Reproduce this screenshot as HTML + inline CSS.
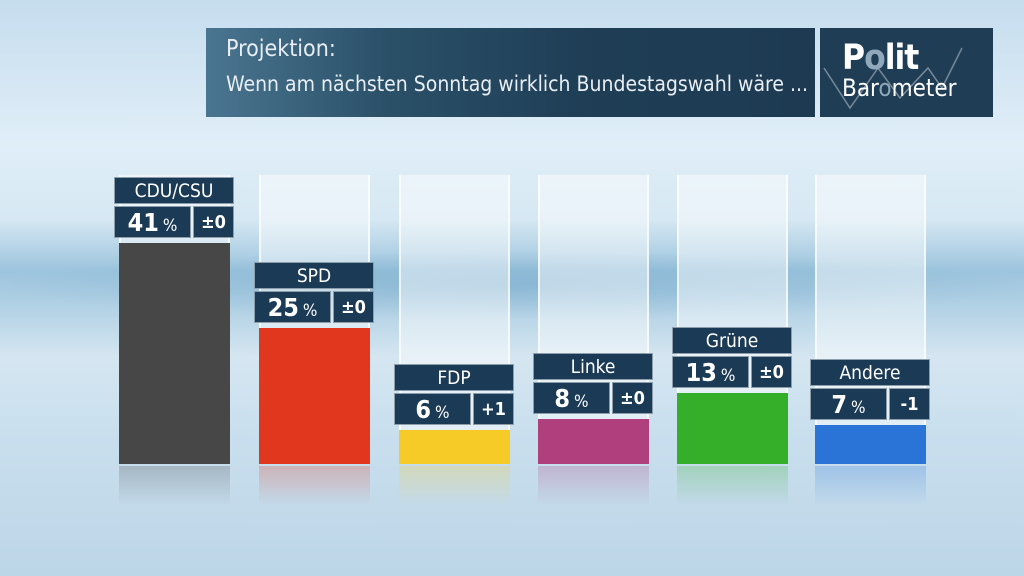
<!DOCTYPE html>
<html><head><meta charset="utf-8"><style>
*{margin:0;padding:0;box-sizing:border-box}
body{width:1024px;height:576px;overflow:hidden;position:relative;font-family:"DejaVu Sans Condensed","Liberation Sans Narrow","Liberation Sans",sans-serif;
background:linear-gradient(180deg,#c6ddee 0%,#e0eef8 25%,#d6e8f3 38%,#9cc4dd 47%,#b8d5e7 55%,#d5e6f1 62%,#c9dfee 75%,#bcd5e7 100%)}
.band{position:absolute;left:0;top:250px;width:1024px;height:70px;background:radial-gradient(ellipse at 50% 50%,rgba(90,150,190,.35),rgba(90,150,190,0) 70%)}
.banner{position:absolute;left:206px;top:28px;width:609px;height:89px;background:linear-gradient(90deg,#4a7590 0%,#2a5068 30%,#1f3f57 60%,#1d3a52 100%);color:#e8eef3}
.banner .t1{position:absolute;left:20px;top:8px;font-size:23px}
.banner .t2{position:absolute;left:20px;top:44px;font-size:21px}
.logo{position:absolute;left:820px;top:28px;width:173px;height:89px;background:#1f3d55;color:#fff}
.ghost{position:absolute;top:175px;background:rgba(255,255,255,.45);border-left:2px solid rgba(255,255,255,.7);border-right:2px solid rgba(255,255,255,.7)}
.bar{position:absolute;bottom:112px}
.refl{position:absolute;top:466px;opacity:.25;height:40px}
.box{position:absolute;background:#1b3a55;color:#fff;text-align:center;border:1px solid rgba(255,255,255,.5)}
.nm{height:27px;font-size:19px;line-height:26px}
.vl{height:32px;font-size:25px;line-height:31px;font-weight:600}
.vl small{font-size:17px;font-weight:normal;margin-left:4px}
.ch{height:32px;font-size:18px;line-height:31px;font-weight:600}
</style></head><body>
<div class="band"></div>
<div class="banner"><div class="t1">Projektion:</div><div class="t2">Wenn am nächsten Sonntag wirklich Bundestagswahl wäre ...</div></div>
<div class="logo">
<svg width="173" height="89" style="position:absolute;left:0;top:0"><polyline points="4,40 30,80 58,40 80,70 108,40 122,60 142,20" fill="none" stroke="rgba(255,255,255,.4)" stroke-width="1.5"/></svg>
<div style="position:absolute;left:22px;top:10px;font-size:35px;font-weight:bold;letter-spacing:-1px">P<span style="color:#8fa8bb">o</span>lit</div>
<div style="position:absolute;left:22px;top:46px;font-size:24px">Bar<span style="color:#8fa8bb">o</span>meter</div>
</div>
<div id="c"></div>
<script>
var d=[["CDU/CSU","41","±0",119,243,"#474747"],["SPD","25","±0",259,328,"#e2371f"],["FDP","6","+1",399,430,"#f6cb28"],["Linke","8","±0",538,419,"#b03f7e"],["Grüne","13","±0",677,393,"#35ae2a"],["Andere","7","-1",815,425,"#2a74d8"]];
var h="";
d.forEach(function(r){var x=r[3],t=r[4];
h+='<div class="ghost" style="left:'+x+'px;width:111px;height:'+(t-175)+'px"></div>';
h+='<div class="bar" style="left:'+x+'px;width:111px;top:'+t+'px;background:'+r[5]+'"></div>';
h+='<div class="refl" style="left:'+x+'px;width:111px;background:linear-gradient(180deg,'+r[5]+',transparent)"></div>';
var nt=t-66;
h+='<div class="box nm" style="left:'+(x-5)+'px;top:'+nt+'px;width:120px">'+r[0]+'</div>';
h+='<div class="box vl" style="left:'+(x-5)+'px;top:'+(nt+29)+'px;width:77px">'+r[1]+'<small>%</small></div>';
h+='<div class="box ch" style="left:'+(x+74)+'px;top:'+(nt+29)+'px;width:41px">'+r[2]+'</div>';
});
document.getElementById("c").innerHTML=h;
</script>
</body></html>
